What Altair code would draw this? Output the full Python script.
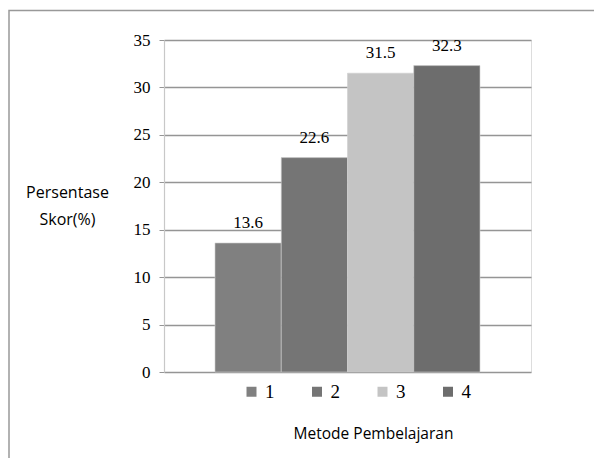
import altair as alt
import pandas as pd

methods = ["1", "2", "3", "4"]
scores = [13.6, 22.6, 31.5, 32.3]
colors = ["#808080", "#757575", "#c4c4c4", "#6d6d6d"]
y_ticks = [0, 5, 10, 15, 20, 25, 30, 35]

df = pd.DataFrame({"Metode": methods, "Skor": scores, "Label": [f"{v:.1f}" for v in scores]})

x_enc = alt.X(
    "Metode:N",
    sort=methods,
    scale=alt.Scale(paddingInner=0, paddingOuter=0.77),
    axis=alt.Axis(
        labels=False, ticks=False, domain=False, grid=False,
        title="Metode Pembelajaran", titleFont="Open Sans", titleFontSize=15.5,
        titleFontWeight="normal", titleColor="#000000",
        titleX=209, titleY=66, titleBaseline="alphabetic", titleAlign="center",
    ),
)
y_enc = alt.Y(
    "Skor:Q",
    scale=alt.Scale(domain=[0, 35], nice=False),
    axis=alt.Axis(
        values=y_ticks, grid=True, gridColor="#959595", gridWidth=1.3,
        domainColor="#c8c8c8", domainWidth=1.2, tickColor="#959595", tickSize=5,
        labelPadding=9, labelFont="Liberation Serif", labelFontSize=17, labelColor="#000000",
        title=["Persentase", "Skor(%)"], titleAngle=0, titleFont="Open Sans", titleFontSize=16,
        titleFontWeight="normal", titleColor="#000000", titleLineHeight=27,
        titleX=-97, titleY=157, titleAlign="center", titleBaseline="alphabetic",
    ),
)

bars = alt.Chart(df).mark_bar(stroke="#cfcfcf", strokeWidth=0.6).encode(
    x=x_enc,
    y=y_enc,
    color=alt.Color(
        "Metode:N",
        sort=methods,
        scale=alt.Scale(domain=methods, range=colors),
        legend=alt.Legend(
            orient="none", legendX=78, legendY=342, direction="horizontal", columns=4,
            title=None, symbolType="square", symbolSize=100, symbolStrokeWidth=0,
            columnPadding=32.5, labelFont="Liberation Serif", labelFontSize=19,
            labelColor="#000000", labelOffset=4,
        ),
    ),
)

labels = alt.Chart(df).mark_text(
    dy=-15, baseline="alphabetic", font="Liberation Serif", fontSize=17, color="#000000"
).encode(x=alt.X("Metode:N", sort=methods), y="Skor:Q", text="Label:N")

border = alt.Chart(alt.Data(values=[{"a": 1}])).mark_rect(
    fillOpacity=0, stroke="#999999", strokeWidth=1.5, clip=False
).encode(
    x=alt.value(-155), x2=alt.value(700), y=alt.value(-29.5), y2=alt.value(600)
)

chart = alt.layer(border, bars, labels).properties(
    width=367,
    height=332,
    autosize=alt.AutoSizeParams(type="none"),
    padding={"left": 156, "top": 32, "right": 63, "bottom": 86},
).configure_view(stroke=None).configure(background="white")

chart.save("out.html", embed_options={"renderer": "svg", "actions": False})
